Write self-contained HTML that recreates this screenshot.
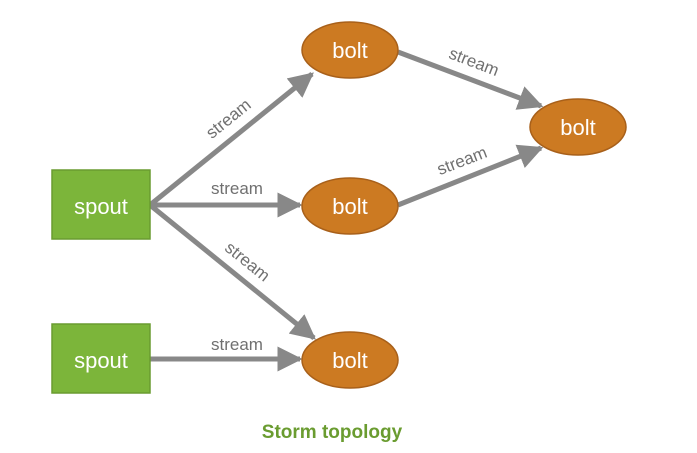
<!DOCTYPE html>
<html><head><meta charset="utf-8"><style>
html,body{margin:0;padding:0;background:#fff;}
svg{display:block;font-family:"Liberation Sans",Arial,sans-serif;}
</style></head><body>
<svg width="697" height="453" viewBox="0 0 697 453">
<defs>
<marker id="a" markerWidth="5" markerHeight="5" refX="4.5" refY="2.5" orient="auto" markerUnits="strokeWidth">
<path d="M0,0 L5,2.5 L0,5 Z" fill="#888"/>
</marker>
</defs>
<g stroke="#888" stroke-width="5" fill="none" marker-end="url(#a)">
<line x1="150" y1="205" x2="312" y2="74"/>
<line x1="150" y1="205" x2="300" y2="205"/>
<line x1="150" y1="205" x2="314" y2="338"/>
<line x1="150" y1="359" x2="300" y2="359"/>
<line x1="398" y1="52" x2="541" y2="106"/>
<line x1="398" y1="205" x2="541" y2="148"/>
</g>
<rect x="52" y="170" width="98" height="69" fill="#7cb53a" stroke="#6a9c30" stroke-width="1.5"/>
<rect x="52" y="324" width="98" height="69" fill="#7cb53a" stroke="#6a9c30" stroke-width="1.5"/>
<text x="101" y="214" font-size="22" fill="#fff" text-anchor="middle">spout</text>
<text x="101" y="368" font-size="22" fill="#fff" text-anchor="middle">spout</text>
<g fill="#cc7a22" stroke="#a8601a" stroke-width="1.5">
<ellipse cx="350" cy="50" rx="48" ry="28"/>
<ellipse cx="350" cy="206" rx="48" ry="28"/>
<ellipse cx="350" cy="360" rx="48" ry="28"/>
<ellipse cx="578" cy="127" rx="48" ry="28"/>
</g>
<g font-size="22" fill="#fff" text-anchor="middle">
<text x="350" y="58">bolt</text>
<text x="350" y="214">bolt</text>
<text x="350" y="368">bolt</text>
<text x="578" y="135">bolt</text>
</g>
<g font-size="17" fill="#707070" text-anchor="middle">
<text x="237" y="194">stream</text>
<text x="237" y="350">stream</text>
<text transform="translate(232,123) rotate(-39)">stream</text>
<text transform="translate(244,266) rotate(39)">stream</text>
<text transform="translate(472,67) rotate(21)">stream</text>
<text transform="translate(464,166) rotate(-21)">stream</text>
</g>
<text x="332" y="438" font-size="19" font-weight="bold" fill="#6a9c30" text-anchor="middle">Storm topology</text>
</svg>
</body></html>
